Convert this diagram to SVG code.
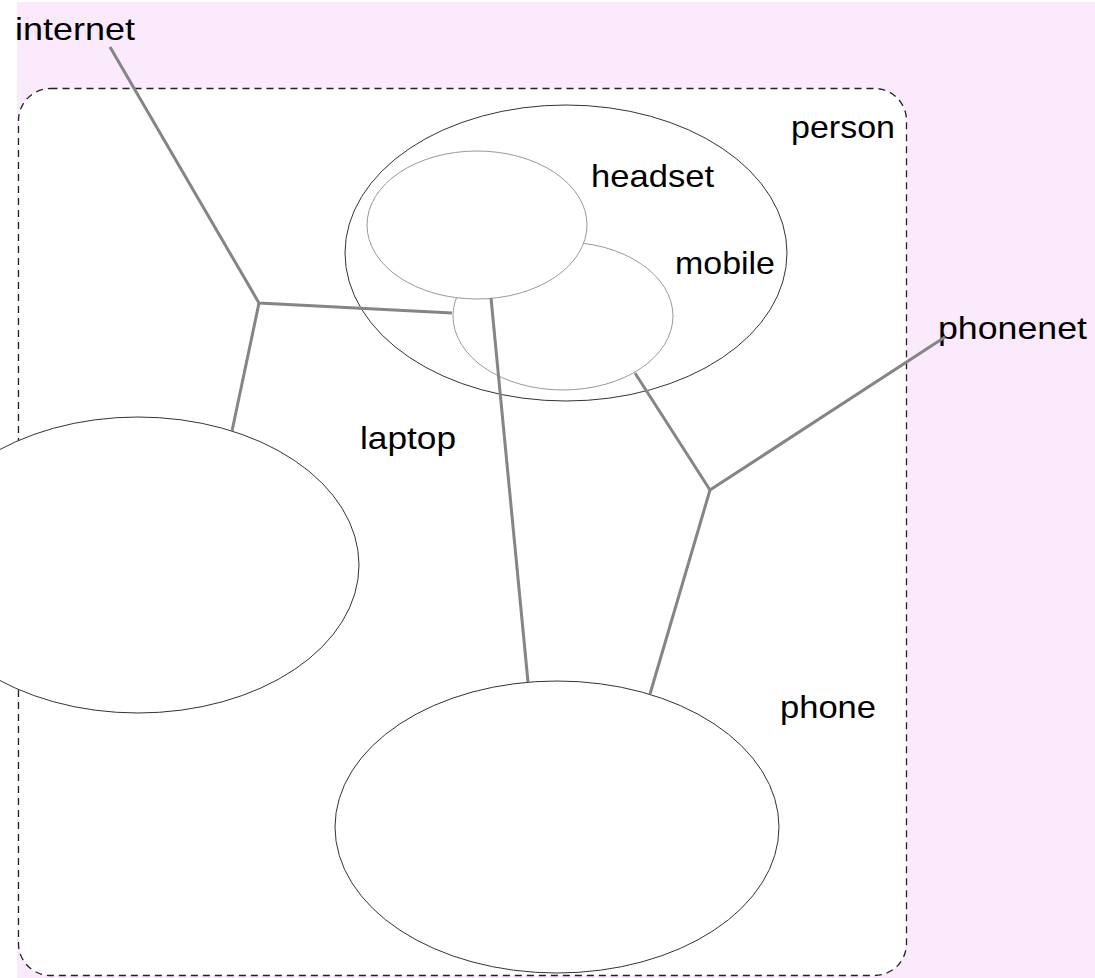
<svg xmlns="http://www.w3.org/2000/svg" width="1095" height="978" viewBox="0 0 1095 978">
<style>
.lbl{font-family:"Liberation Sans",Arial,sans-serif;font-size:32px;fill:#000}
.big{fill:#fff;stroke:#333;stroke-width:1}
.small{fill:#fff;stroke:#999;stroke-width:1}
.edge{fill:none;stroke:#858585;stroke-width:3;stroke-linejoin:miter}
</style>
<rect x="0" y="0" width="1095" height="978" fill="#fff"/>
<rect x="17" y="2" width="1078" height="976" fill="#fbeafc"/>
<g id="person">
<rect x="18.5" y="88.5" width="888" height="887" rx="32" ry="32" fill="#fff" stroke="#222" stroke-width="1.3" stroke-dasharray="7,5"/>
<text class="lbl" x="791" y="138" textLength="104" lengthAdjust="spacingAndGlyphs">person</text>
</g>
<g id="person-body">
<ellipse class="big" cx="566" cy="253" rx="221" ry="148"/>
</g>
<g id="mobile">
<ellipse class="small" cx="563" cy="316" rx="110" ry="74"/>
<text class="lbl" x="675" y="274" textLength="100" lengthAdjust="spacingAndGlyphs">mobile</text>
</g>
<g id="headset">
<ellipse class="small" cx="477" cy="225" rx="110" ry="74"/>
<text class="lbl" x="591" y="187" textLength="123" lengthAdjust="spacingAndGlyphs">headset</text>
</g>
<g id="laptop">
<ellipse class="big" cx="138" cy="565" rx="221" ry="148"/>
<text class="lbl" x="360" y="449" textLength="96" lengthAdjust="spacingAndGlyphs">laptop</text>
</g>
<g id="phone">
<ellipse class="big" cx="557" cy="827" rx="222" ry="146"/>
<text class="lbl" x="780" y="718" textLength="96" lengthAdjust="spacingAndGlyphs">phone</text>
</g>
<g id="internet">
<text class="lbl" x="15" y="40" textLength="120" lengthAdjust="spacingAndGlyphs">internet</text>
</g>
<g id="phonenet">
<text class="lbl" x="938" y="339" textLength="149" lengthAdjust="spacingAndGlyphs">phonenet</text>
</g>
<g id="connectors">
<polyline class="edge" points="110,47 259,303 452,313"/>
<line class="edge" x1="259" y1="303" x2="232" y2="431"/>
<polyline class="edge" points="945,337 710,490 635,373"/>
<line class="edge" x1="710" y1="490" x2="650" y2="694"/>
<line class="edge" x1="491" y1="298" x2="528" y2="682"/>
</g>
</svg>
